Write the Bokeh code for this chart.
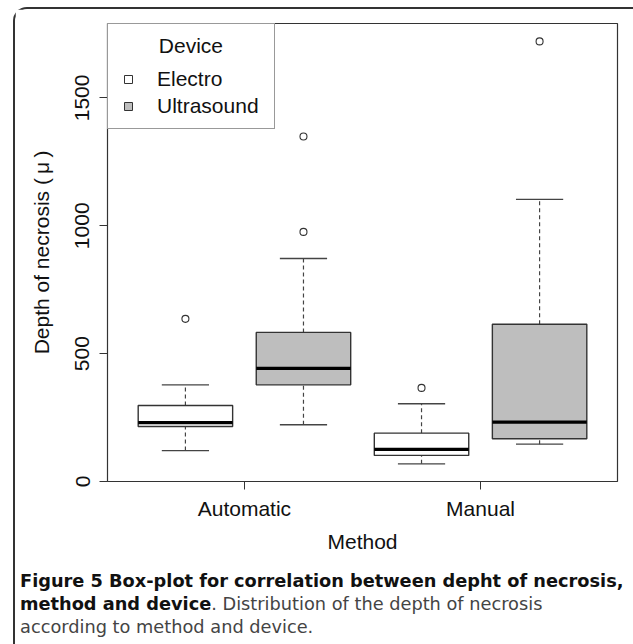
import math
from bokeh.plotting import figure
from bokeh.models import (ColumnDataSource, FixedTicker, Legend, LegendItem,
                          Div, Range1d)
from bokeh.layouts import column
from bokeh.embed import file_html
from bokeh.resources import INLINE

# ---------------- data ----------------
methods = ["Automatic", "Manual"]
devices = ["Electro", "Ultrasound"]
# order: Automatic/Electro, Automatic/Ultrasound, Manual/Electro, Manual/Ultrasound
whisker_low = [121, 222, 69, 146]
q1 = [215, 378, 102, 167]
median = [230, 442, 126, 232]
q3 = [297, 583, 189, 615]
whisker_high = [378, 872, 304, 1103]
outlier_box = [0, 1, 1, 2, 3]
outlier_value = [636, 976, 1349, 366, 1721]
y_ticks = [0, 500, 1000, 1500]
device_fill = {"Electro": "white", "Ultrasound": "#BEBEBE"}

# ---------------- derived positions ----------------
pos, dev, fills = [], [], []
for mi, m in enumerate(methods):
    for di, d in enumerate(devices):
        pos.append(mi * len(devices) + di + 1)
        dev.append(d)
        fills.append(device_fill[d])
group_ticks = [sum(pos[i * 2:(i + 1) * 2]) / 2 for i in range(len(methods))]

BW = 0.8
src = ColumnDataSource(dict(
    x=pos, lo=whisker_low, q1=q1, med=median, q3=q3, hi=whisker_high,
    fill=fills,
    cl=[x - BW / 4 for x in pos], cr=[x + BW / 4 for x in pos],
    bl=[x - BW / 2 for x in pos], br=[x + BW / 2 for x in pos],
))

FONT = "Liberation Sans"
FS = "21px"

p = figure(width=617, height=550, x_range=Range1d(0.34, 4.66),
           y_range=Range1d(0, 1791), output_backend="svg",
           toolbar_location=None, min_border_left=92, min_border_right=15,
           min_border_top=14, min_border_bottom=78)
p.xgrid.visible = False
p.ygrid.visible = False
p.outline_line_color = "#333333"
p.outline_line_width = 1.2
p.background_fill_color = "white"
p.border_fill_color = "white"

# whiskers
p.segment(x0="x", y0="q3", x1="x", y1="hi", source=src, line_color="#444444",
          line_width=1.2, line_dash="4 3")
p.segment(x0="x", y0="lo", x1="x", y1="q1", source=src, line_color="#444444",
          line_width=1.2, line_dash="4 3")
p.segment(x0="cl", y0="hi", x1="cr", y1="hi", source=src, line_color="#444444",
          line_width=1.3)
p.segment(x0="cl", y0="lo", x1="cr", y1="lo", source=src, line_color="#444444",
          line_width=1.3)
# boxes
p.vbar(x="x", width=BW, bottom="q1", top="q3", source=src, fill_color="fill",
       line_color="#333333", line_width=1.4)
# medians
p.segment(x0="bl", y0="med", x1="br", y1="med", source=src, line_color="black",
          line_width=3.2)
# outliers
p.scatter(x=[pos[i] for i in outlier_box], y=outlier_value, marker="circle",
          size=7, fill_color="white", line_color="#333333", line_width=1.1)

# axes
xa = p.xaxis[0]
xa.ticker = FixedTicker(ticks=group_ticks)
xa.major_label_overrides = {t: m for t, m in zip(group_ticks, methods)}
xa.axis_line_color = None
xa.major_tick_in = 0
xa.major_tick_out = 8
xa.minor_tick_line_color = None
xa.major_tick_line_color = "#333333"
xa.major_label_text_font = FONT
xa.major_label_text_font_size = FS
xa.major_label_text_color = "#111111"
xa.major_label_standoff = 7
xa.axis_label = "Method"
xa.axis_label_text_font = FONT
xa.axis_label_text_font_size = FS
xa.axis_label_text_font_style = "normal"
xa.axis_label_text_color = "#111111"
xa.axis_label_standoff = 7

ya = p.yaxis[0]
ya.ticker = FixedTicker(ticks=y_ticks)
ya.axis_line_color = None
ya.major_tick_in = 0
ya.major_tick_out = 8
ya.minor_tick_line_color = None
ya.major_tick_line_color = "#333333"
ya.major_label_orientation = "vertical"
ya.major_label_text_font = FONT
ya.major_label_text_font_size = FS
ya.major_label_text_color = "#111111"
ya.major_label_standoff = 10
ya.axis_label = "Depth of necrosis (\u2009\u03bc\u2009)"
ya.axis_label_text_font = FONT
ya.axis_label_text_font_size = FS
ya.axis_label_text_font_style = "normal"
ya.axis_label_text_color = "#111111"
ya.axis_label_standoff = 20

# legend (marker-only renderers, nothing drawn in the plot area)
nan = float("nan")
r_e = p.scatter([nan], [nan], marker="square", fill_color=device_fill["Electro"],
                line_color="#333333", line_width=1)
r_u = p.scatter([nan], [nan], marker="square", fill_color=device_fill["Ultrasound"],
                line_color="#333333", line_width=1)
legend = Legend(items=[LegendItem(label=devices[0], renderers=[r_e]),
                       LegendItem(label=devices[1], renderers=[r_u])],
                location="top_left", margin=0, padding=10, spacing=3,
                glyph_width=20, glyph_height=24, label_standoff=19,
                label_width=107,
                title="\u00a0" * 7 + "Device", title_standoff=9,
                title_text_font=FONT, title_text_font_size=FS,
                title_text_font_style="normal", title_text_color="#111111",
                label_text_font=FONT, label_text_font_size=FS,
                label_text_color="#111111",
                border_line_color="#333333", border_line_width=1.2,
                background_fill_color="white", background_fill_alpha=1.0)
p.add_layout(legend)

caption_html = (
    '<div style="padding:6px 0 0 0; font-family:\'DejaVu Sans\'; font-size:17.75px; '
    'line-height:23px; white-space:nowrap; color:#444;">'
    '<b style="color:#111">Figure 5 Box-plot for correlation between depht of necrosis,</b><br>'
    '<b style="color:#111">method and device</b>. Distribution of the depth of necrosis<br>'
    'according to method and device.</div>'
)
cap = Div(text=caption_html, width=617, height=80)

layout = column(p, cap, spacing=0,
                styles={"margin-left": "13px", "margin-top": "7px",
                        "border-left": "2px solid #333",
                        "border-top": "2px solid #333",
                        "border-top-left-radius": "14px"})

open("out.html", "w").write(file_html(layout, INLINE))
